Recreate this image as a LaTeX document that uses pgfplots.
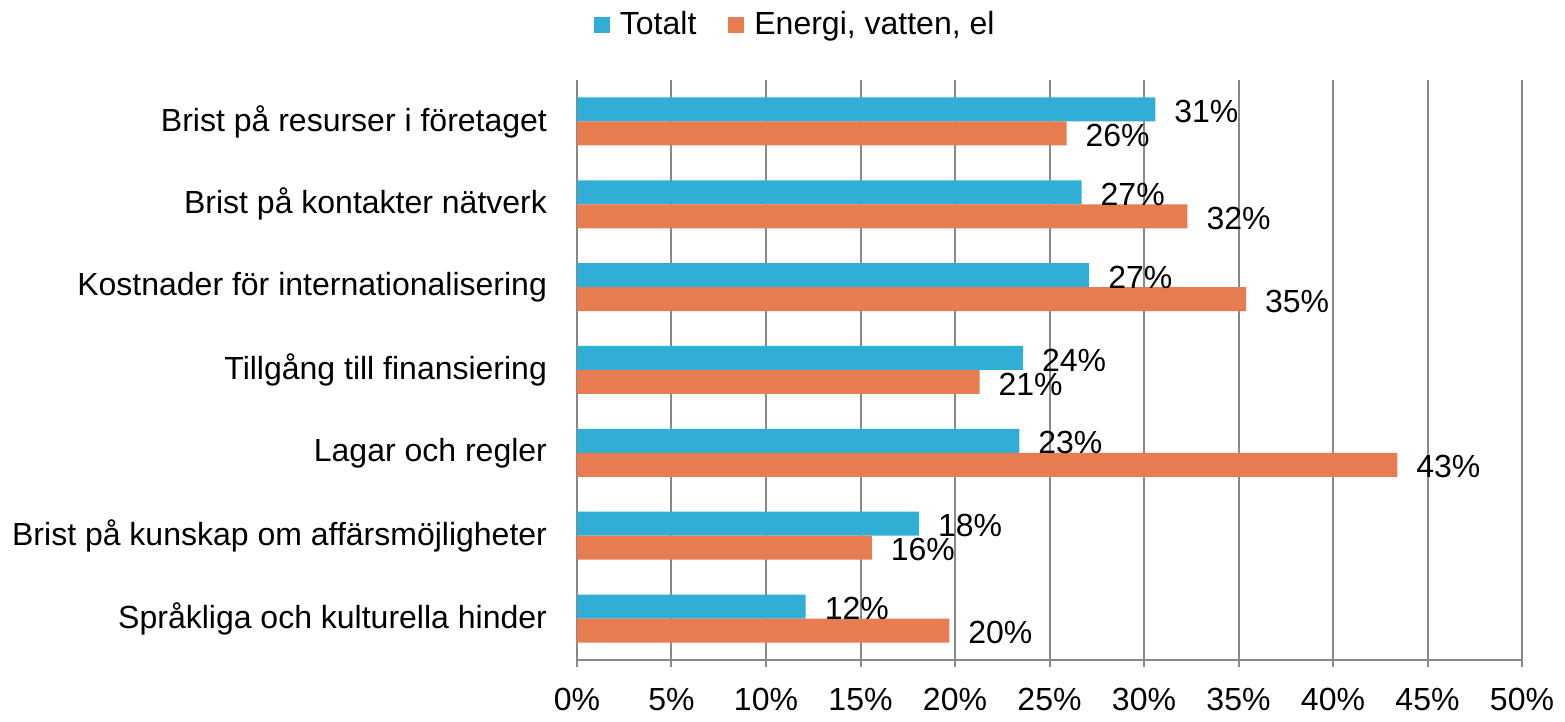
\documentclass[border=0pt]{standalone}
\usepackage{pgfplots}
\pgfplotsset{compat=1.18}
\usepackage{fontspec}
\setmainfont{Liberation Sans}
\definecolor{cblue}{RGB}{49,174,214}
\definecolor{corange}{RGB}{230,124,80}
\definecolor{cgrid}{RGB}{137,137,137}
\begin{document}
\fontsize{16}{19}\selectfont
\begin{tikzpicture}
\begin{axis}[
  xbar,
  scale only axis,
  width=472.5pt, height=290pt,
  xmin=0, xmax=50,
  ymin=-0.5, ymax=6.5,
  axis x line*=bottom, axis y line*=left,
  axis line style={cgrid, line width=1pt},
  xtick={0,5,...,50},
  xticklabel={\pgfmathprintnumber{\tick}\%},
  xticklabel style={yshift=-5pt},
  xmajorgrids,
  major grid style={cgrid, line width=1pt},
  tick align=outside,
  major tick length=3.5pt,
  tick style={cgrid, line width=1pt},
  ytick={0,...,6},
  yticklabels={Språkliga och kulturella hinder, Brist på kunskap om affärsmöjligheter, Lagar och regler, Tillgång till finansiering, Kostnader för internationalisering, Brist på kontakter nätverk, Brist på resurser i företaget},
  ytick style={draw=none},
  yticklabel style={xshift=-6pt},
  minor ytick={-0.5,0.5,...,6.5},
  minor tick length=3.5pt,
  minor tick style={cgrid, line width=1pt},
  /pgf/number format/assume math mode=true,
  /pgf/number format/.cd, fixed, precision=0, /pgfplots/.cd,
  bar width=12pt,
  nodes near coords={\pgfmathprintnumber{\pgfplotspointmeta}\%},
  point meta=x,
  every node near coord/.append style={font=\fontsize{16}{19}\selectfont, black, anchor=west, xshift=4pt, yshift=-1pt},
  legend style={at={(0.232,1.095)}, anchor=center, draw=none, fill=none, legend columns=2,
    /tikz/every even column/.append style={column sep=14pt}, font=\fontsize{16}{19}\selectfont},
  legend image code/.code={\fill[#1] (0pt,-4pt) rectangle (8pt,4pt); \path (11pt,0pt);},
]
\addplot[fill=cblue, draw=none, bar shift=6pt] coordinates {
(12.1,0) (18.1,1) (23.4,2) (23.6,3) (27.1,4) (26.7,5) (30.6,6)};
\addplot[fill=corange, draw=none, bar shift=-6pt] coordinates {
(19.7,0) (15.6,1) (43.4,2) (21.3,3) (35.4,4) (32.3,5) (25.9,6)};
\legend{Totalt, {Energi, vatten, el}}
\end{axis}
\path (current axis.south west) ++(-288.5pt,-27pt);
\path (current axis.north east) ++(21.5pt,40pt);
\end{tikzpicture}
\end{document}
